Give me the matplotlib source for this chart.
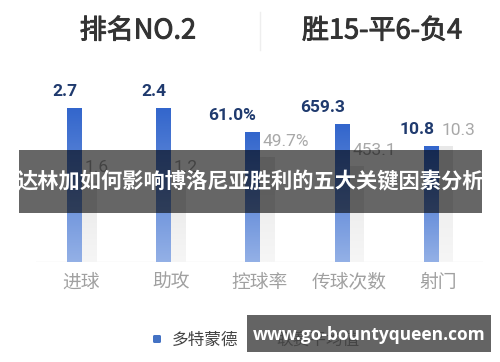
import numpy as np
import matplotlib.pyplot as plt
import matplotlib.patheffects as pe
from matplotlib.patches import Rectangle, FancyBboxPatch
from matplotlib.colors import LinearSegmentedColormap

plt.rcParams['font.family'] = ['Noto Sans CJK SC', 'DejaVu Sans']

# data
categories = ['进球', '助攻', '控球率', '传球次数', '射门']
team_labels = ['2.7', '2.4', '61.0%', '659.3', '10.8']
league_labels = ['1.6', '1.2', '49.7%', '453.1', '10.3']
# bar heights as drawn (per-stat normalised, longest bar = 1)
team_heights = [1.0, 1.0, 0.84, 0.89, 0.75]
league_heights = [0.51, 0.51, 0.68, 0.62, 0.75]

header_left = '排名NO.2'
header_right = '胜15-平6-负4'
title = '达林加如何影响博洛尼亚胜利的五大关键因素分析'
legend_names = ['多特蒙德', '联赛平均值']
watermark = 'www.go-bountyqueen.com'

W, H = 500, 362
fig = plt.figure(figsize=(W / 100, H / 100), dpi=100)
fig.patch.set_facecolor('white')

# bar axes: baseline at y=262px, height 1.0 = 154px, x from 36 to 483px
ax = fig.add_axes([36 / W, (H - 262) / H, (483 - 36) / W, 154 / H])
ax.set_facecolor('none')
for s in ax.spines.values():
    s.set_visible(False)
ax.set_xticks([])
ax.set_yticks([])

blue_cmap = LinearSegmentedColormap.from_list('b', ['#93b0e6', '#3366cc'])
grey_cmap = LinearSegmentedColormap.from_list('g', ['#f6f6f6', '#e8e8e8'])
grad = np.linspace(0, 1, 100).reshape(-1, 1)

bw = 0.162
x = np.arange(len(categories))
for i in x:
    h1 = team_heights[i]
    h2 = league_heights[i]
    ax.imshow(grad, cmap=blue_cmap, origin='lower', aspect='auto',
              extent=(i - bw, i, 0, h1), zorder=2)
    ax.imshow(grad, cmap=grey_cmap, origin='lower', aspect='auto',
              extent=(i, i + bw, 0, h2), zorder=1)
    ax.annotate(team_labels[i], (i, h1), xytext=(-4, 17), textcoords='offset pixels',
                ha='right', va='center', fontsize=12.5, fontweight='bold',
                color='#1f3a6e', family=['Roboto', 'DejaVu Sans'])
    ax.annotate(league_labels[i], (i, h2), xytext=(3, 16), textcoords='offset pixels',
                ha='left', va='center', fontsize=12.5, color='#a8a8a8',
                family=['Roboto', 'DejaVu Sans'])
    ax.annotate(categories[i], (i, 0), xytext=(0, -20), textcoords='offset pixels',
                ha='center', va='center', fontsize=13.5, color='#a0a0a0')

ax.axhline(0, color='#eeeeee', lw=1, zorder=0)
ax.set_xlim(-0.51, 4.5)
ax.set_ylim(0, 1)

# overlay in pixel coordinates
ov = fig.add_axes([0, 0, 1, 1])
ov.set_zorder(3)
ov.set_xlim(0, W)
ov.set_ylim(H, 0)
ov.axis('off')
ov.patch.set_alpha(0)

# medium-weight headers: regular glyphs with a thin stroke
medium = [pe.withStroke(linewidth=0.7, foreground='#333333')]
ov.text(138, 31, header_left, ha='center', va='center', fontsize=19.5,
        color='#333333', path_effects=medium)
ov.text(382, 31, header_right, ha='center', va='center', fontsize=19.5,
        color='#333333', path_effects=medium)
ov.plot([260, 260], [12, 50], color='#eeeeee', lw=1)

# legend
ov.add_patch(FancyBboxPatch((153, 335), 8, 8, boxstyle='round,pad=0,rounding_size=1.5',
                            color='#4472c4', lw=0))
ov.text(172, 340, legend_names[0], ha='left', va='center', fontsize=12, color='#444444')
ov.add_patch(FancyBboxPatch((259, 335), 8, 8, boxstyle='round,pad=0,rounding_size=1.5',
                            color='#cccccc', lw=0))
ov.text(276, 340, legend_names[1], ha='left', va='center', fontsize=12, color='#444444')

# title banner
ov.add_patch(Rectangle((19, 150), 463, 63, color='black', alpha=0.6, lw=0))
ov.text(250, 182, title, ha='center', va='center', fontsize=15.3,
        fontweight='bold', color='white')

# watermark
ov.add_patch(Rectangle((247, 315), 244, 37, color='#646464', lw=0))
ov.text(369, 335, watermark, ha='center', va='center', fontsize=12.5,
        fontweight='bold', color='white', family=['Open Sans', 'DejaVu Sans'])

fig.savefig('out.png', dpi=100)
